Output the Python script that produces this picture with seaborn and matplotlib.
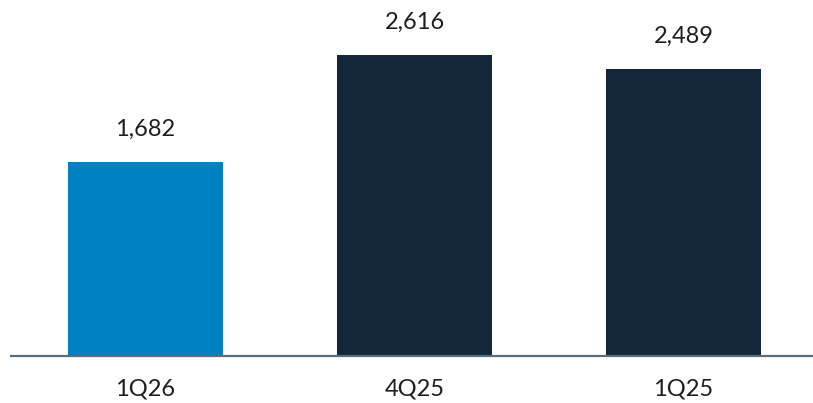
import matplotlib
matplotlib.use("Agg")
import matplotlib.pyplot as plt
import seaborn as sns
import pandas as pd

quarters = ["1Q26", "4Q25", "1Q25"]
values = [1682, 2616, 2489]
bar_colors = ["#0081C3", "#12283A", "#12283A"]

df = pd.DataFrame({"quarter": quarters, "value": values})

sns.set_style("white")
plt.rcParams['font.family'] = ['Lato', 'DejaVu Sans']

fig = plt.figure(figsize=(8.13, 4.03), dpi=100)
ax = fig.add_axes([11 / 813, 1 - 356 / 403, 807 / 813, 356 / 403])

sns.barplot(data=df, x="quarter", y="value", hue="quarter", palette=bar_colors,
            width=0.573, legend=False, ax=ax, saturation=1, linewidth=0)

for i, v in enumerate(values):
    ax.annotate(f"{v:,}", (i, v), xytext=(0, 16), textcoords="offset points",
                ha="center", va="bottom", fontsize=17, color="#1E1E1E")

ax.set_xlim(-0.5, 2.5)
ax.set_ylim(0, 3090)
ax.set_xlabel("")
ax.set_ylabel("")
ax.set_yticks([])
for side in ["top", "right", "left"]:
    ax.spines[side].set_visible(False)
ax.spines["bottom"].set_color("#5A6B7A")
ax.spines["bottom"].set_linewidth(1.6)
ax.tick_params(axis="x", length=0, pad=16, labelsize=17, labelcolor="#1E1E1E")

fig.savefig("out.png", dpi=100)
